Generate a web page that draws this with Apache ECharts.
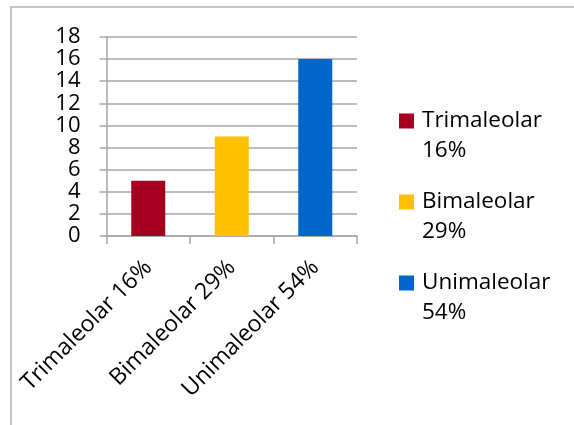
<!DOCTYPE html>
<html>
<head>
<meta charset="utf-8">
<style>
  html, body { margin: 0; padding: 0; background: #ffffff; }
  #chart { width: 574px; height: 425px; }
</style>
<script src="https://cdn.jsdelivr.net/npm/echarts@6/dist/echarts.min.js"></script>
</head>
<body>
<div id="chart"></div>
<script>
// Fracture types and their counts
const categories = ['Trimaleolar 16%', 'Bimaleolar 29%', 'Unimaleolar 54%'];
const legendNames = ['Trimaleolar\n16%', 'Bimaleolar\n29%', 'Unimaleolar\n54%'];
const counts = [5, 9, 16];
const colors = ['#a50021', '#ffc000', '#0066cc'];
const yTicks = { min: 0, max: 18, step: 2 };

const FONT = 'Open Sans';
const GRAY = '#a6a6a6';

// Legend swatch: 15px square near the top of a taller box so it lines up with the first text line
const swatch = 'path://M0,7.5L15,7.5L15,22.5L0,22.5Z M18,0L18.01,0 M18,60L18.01,60';

const chart = echarts.init(document.getElementById('chart'), null, { renderer: 'canvas' });

// One series per category so each gets its own legend entry
const series = legendNames.map((name, i) => ({
  name: name,
  type: 'bar',
  stack: 'all',
  barWidth: 34,
  itemStyle: { color: colors[i] },
  data: counts.map((v, j) => (j === i ? v : '-'))
}));

chart.setOption({
  animation: false,
  textStyle: { fontFamily: FONT },
  graphic: [{
    type: 'rect',
    shape: { x: 11, y: 7, width: 700, height: 600 },
    style: { fill: 'none', stroke: '#b3b3b3', lineWidth: 1.5 },
    silent: true
  }],
  grid: { left: 106.5, right: 217, top: 37, bottom: 189, containLabel: false },
  xAxis: {
    type: 'category',
    data: categories,
    axisLine: { show: true, lineStyle: { color: GRAY, width: 1.5 } },
    axisTick: { show: true, length: 8, alignWithLabel: false, lineStyle: { color: GRAY, width: 1.5 } },
    axisLabel: {
      interval: 0, rotate: 45, margin: 28,
      fontSize: 23, fontFamily: FONT, color: '#000000'
    },
    splitLine: { show: false }
  },
  yAxis: {
    type: 'value',
    min: yTicks.min, max: yTicks.max, interval: yTicks.step,
    axisLine: { show: true, lineStyle: { color: GRAY, width: 1.5 } },
    axisTick: { show: true, length: 7, lineStyle: { color: GRAY, width: 1.5 } },
    axisLabel: { margin: 26, fontSize: 22, fontFamily: FONT, color: '#000000' },
    splitLine: { show: true, lineStyle: { color: GRAY, width: 1.5 } }
  },
  legend: {
    orient: 'vertical',
    left: 399, top: 106,
    padding: 0,
    icon: swatch,
    itemWidth: 18, itemHeight: 60,
    itemGap: 21,
    data: legendNames,
    textStyle: { fontSize: 22.5, fontFamily: FONT, color: '#000000', lineHeight: 30 }
  },
  series: series
});
</script>
</body>
</html>
